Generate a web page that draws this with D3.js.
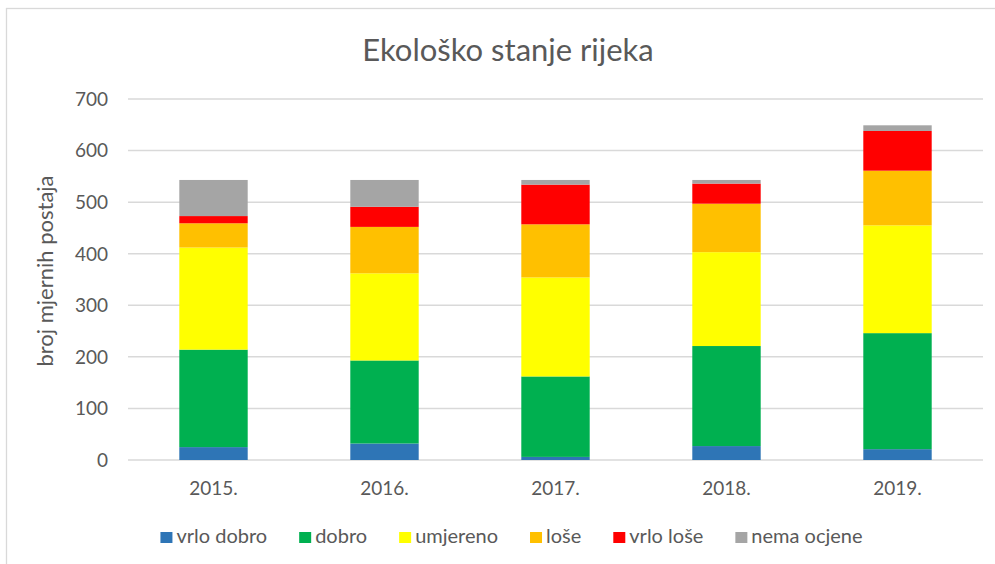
<!DOCTYPE html>
<html>
<head>
    <meta charset="utf-8">
    <script src="https://cdn.jsdelivr.net/npm/d3@7"></script>
    <style>
        body { margin: 0; background: #fff; }
        svg { display: block; font-family: Lato, "Open Sans", sans-serif; }
    </style>
</head>
<body>
    <svg width="995" height="564"></svg>
    <script>
        const years = ["2015.", "2016.", "2017.", "2018.", "2019."]
        const categories = ["vrlo dobro", "dobro", "umjereno", "loše", "vrlo loše", "nema ocjene"]
        const colors = ["#2e75b6", "#00b050", "#ffff00", "#ffc000", "#ff0000", "#a5a5a5"]

        // one array per category, values per year
        const vrloDobro  = [25, 32, 6, 27, 21]
        const dobro      = [189, 161, 156, 194, 225]
        const umjereno   = [198, 169, 192, 182, 209]
        const lose       = [47, 90, 103, 94, 106]
        const vrloLose   = [14, 39, 77, 39, 77]
        const nemaOcjene = [70, 52, 9, 7, 11]
        const yTicks = [0, 100, 200, 300, 400, 500, 600, 700]

        const seriesValues = [vrloDobro, dobro, umjereno, lose, vrloLose, nemaOcjene]
        const rows = years.map(function(y, i) {
            const r = { year: y }
            categories.forEach(function(c, j) { r[c] = seriesValues[j][i] })
            return r
        })

        const svg = d3.select("svg")
        const txt = "#595959"

        // chart frame
        svg.append("rect")
            .attr("x", 6.5).attr("y", 8.5)
            .attr("width", 1000).attr("height", 600)
            .attr("fill", "none").attr("stroke", "#d9d9d9").attr("stroke-width", 1.3)

        const x = d3.scaleBand().domain(years).range([128, 983]).paddingInner(0.6).paddingOuter(0.3)
        const y = d3.scaleLinear().domain([0, 700]).range([460, 99])

        // gridlines
        svg.append("g")
            .selectAll("line")
            .data(yTicks)
            .enter()
            .append("line")
                .attr("x1", 128).attr("x2", 983)
                .attr("y1", function(d) { return y(d) })
                .attr("y2", function(d) { return y(d) })
                .attr("stroke", "#d9d9d9").attr("stroke-width", 1.5)

        // y tick labels
        svg.append("g")
            .selectAll("text")
            .data(yTicks)
            .enter()
            .append("text")
                .attr("x", 108)
                .attr("y", function(d) { return y(d) })
                .attr("dy", "0.36em")
                .attr("text-anchor", "end")
                .attr("fill", txt)
                .style("font-size", "19px")
                .text(function(d) { return d })

        const stack = d3.stack().keys(categories)(rows)

        svg.append("g")
            .selectAll("g")
            .data(stack)
            .enter()
            .append("g")
                .attr("fill", function(d, i) { return colors[i] })
            .selectAll("rect")
            .data(function(d) { return d })
            .enter()
            .append("rect")
                .attr("x", function(d) { return x(d.data.year) })
                .attr("y", function(d) { return y(d[1]) })
                .attr("width", x.bandwidth())
                .attr("height", function(d) { return y(d[0]) - y(d[1]) })

        // x labels
        svg.append("g")
            .selectAll("text")
            .data(years)
            .enter()
            .append("text")
                .attr("x", function(d) { return x(d) + x.bandwidth() / 2 })
                .attr("y", 495)
                .attr("text-anchor", "middle")
                .attr("fill", txt)
                .style("font-size", "19px")
                .text(function(d) { return d })

        svg.append("text")
            .attr("x", 508).attr("y", 61)
            .attr("text-anchor", "middle")
            .attr("fill", txt)
            .style("font-size", "31px")
            .text("Ekološko stanje rijeka")

        svg.append("text")
            .attr("transform", "translate(53,271) rotate(-90)")
            .attr("text-anchor", "middle")
            .attr("fill", txt)
            .style("font-size", "22px")
            .text("broj mjernih postaja")

        // legend, laid out left to right from measured text widths
        const legend = svg.append("g").attr("transform", "translate(0,543)")
        const items = legend.selectAll("g")
            .data(categories)
            .enter()
            .append("g")
        items.append("rect")
            .attr("y", -11).attr("width", 12).attr("height", 11)
            .attr("fill", function(d, i) { return colors[i] })
        items.append("text")
            .attr("x", 16)
            .attr("fill", txt)
            .style("font-size", "20px")
            .text(function(d) { return d })

        let pos = 0
        const widths = []
        items.each(function() {
            const w = 16 + this.querySelector("text").getComputedTextLength()
            widths.push(w)
        })
        const gap = 32
        const total = d3.sum(widths) + gap * (widths.length - 1)
        pos = 511.5 - total / 2
        items.attr("transform", function(d, i) {
            const p = pos
            pos += widths[i] + gap
            return "translate(" + p + ",0)"
        })
    </script>
</body>
</html>
